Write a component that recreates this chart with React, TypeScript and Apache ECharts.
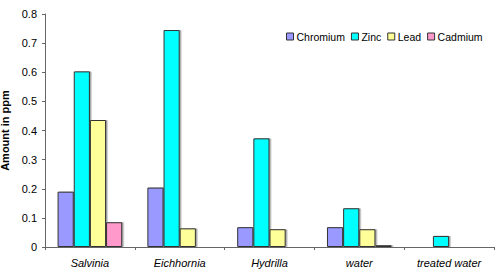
import React, { useEffect, useRef } from "react";
import * as echarts from "echarts";

const categories = ["Salvinia", "Eichhornia", "Hydrilla", "water", "treated water"];
const chromium = [0.19, 0.204, 0.068, 0.068, 0.002];
const zinc = [0.603, 0.745, 0.373, 0.133, 0.038];
const lead = [0.436, 0.064, 0.061, 0.061, 0];
const cadmium = [0.085, 0.003, 0, 0.006, 0];
const seriesNames = ["Chromium", "Zinc", "Lead", "Cadmium"];
const colors = ["#9999FF", "#00FFFF", "#FFFF99", "#FF99CC"];

export default function App() {
  const ref = useRef<HTMLDivElement>(null);
  useEffect(() => {
    if (!ref.current) return;
    const chart = echarts.init(ref.current, null, { renderer: "svg" });
    const data = [chromium, zinc, lead, cadmium];
    chart.setOption({
      animation: false,
      textStyle: { fontFamily: "Liberation Sans, Arial, sans-serif" },
      legend: {
        data: seriesNames,
        left: 286,
        top: 31,
        width: 230,
        orient: "horizontal",
        padding: 0,
        itemWidth: 7,
        itemHeight: 7,
        itemGap: 6,
        icon: "rect",
        textStyle: { fontSize: 10.5, color: "#000", padding: [0, 0, 0, -2] },
        itemStyle: { borderColor: "#333", borderWidth: 1 },
      },
      grid: { left: 45, right: 6, top: 14, bottom: 29, containLabel: false, outerBoundsMode: "none" },
      xAxis: {
        type: "category",
        data: categories,
        axisLine: { lineStyle: { color: "#666" } },
        axisTick: { show: true, alignWithLabel: false, length: 3, lineStyle: { color: "#666" } },
        axisLabel: { fontSize: 11, fontStyle: "italic", color: "#000", margin: 10 },
      },
      yAxis: {
        type: "value",
        min: 0,
        max: 0.8,
        interval: 0.1,
        name: "Amount in ppm",
        nameLocation: "middle",
        nameGap: 26,
        nameTextStyle: { fontSize: 11, fontWeight: "bold", color: "#000" },
        axisLine: { show: true, lineStyle: { color: "#666" } },
        axisTick: { show: true, length: 3, lineStyle: { color: "#666" } },
        splitLine: { show: false },
        axisLabel: {
          fontSize: 11,
          color: "#000",
          margin: 8,
          formatter: (v: number) => (v === 0 ? "0" : v.toFixed(1)),
        },
      },
      series: seriesNames.map((name, i) => ({
        name,
        type: "bar",
        data: data[i],
        barGap: "0%",
        barCategoryGap: "28%",
        itemStyle: {
          color: colors[i],
          borderColor: "#333",
          borderWidth: 1,
          shadowColor: "rgba(0,0,0,0.35)",
          shadowOffsetX: 1.5,
          shadowOffsetY: 0,
          shadowBlur: 0,
        },
      })),
    });
    return () => chart.dispose();
  }, []);
  return <div ref={ref} style={{ width: 500, height: 276, position: "absolute", left: 0, top: 0 }} />;
}
